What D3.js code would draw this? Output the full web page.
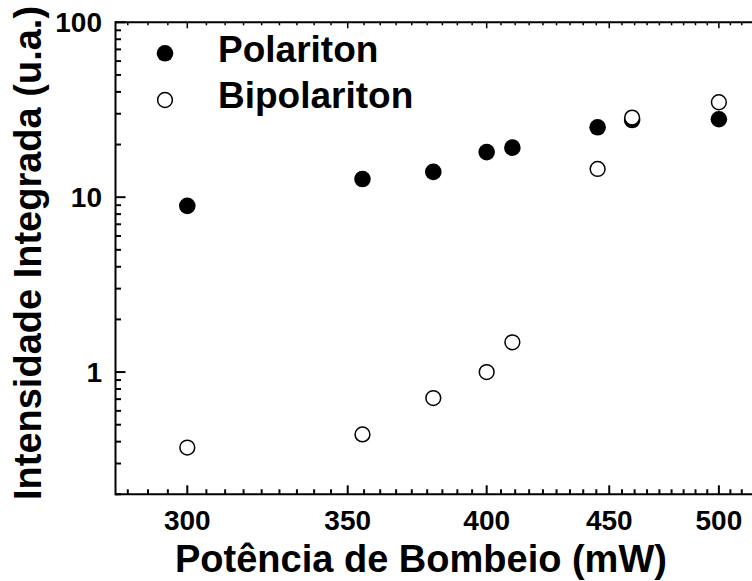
<!DOCTYPE html>
<html>
<head>
<meta charset="utf-8">
<script src="https://cdn.jsdelivr.net/npm/d3@7"></script>
<style>
	body { margin: 0; background: #fff; }
	text { font-family: "Liberation Sans", Arial, sans-serif; font-weight: bold; fill: #000; }
</style>
</head>
<body>
<div id="chart"></div>
<script>
// chart values
var power = [300, 355, 380, 400, 410, 445, 460, 500];
var polariton = [8.92, 12.7, 13.95, 18.1, 19.2, 25.1, 27.6, 27.9];
var bipolariton = [0.37, 0.44, 0.71, 1.0, 1.48, 14.5, 28.5, 34.9];

var xTicks = [300, 350, 400, 450, 500];
var yTicks = [1, 10, 100];
var legendNames = ["Polariton", "Bipolariton"];

//draw the chart
function drawChart() {
	var width = 752;
	var height = 581;

	var svg = d3.select("#chart").append("svg")
		.attr("width", width)
		.attr("height", height);

	//log scales on both axes
	var x = d3.scaleLog().domain([280, 520]).range([115.5, 759.7]);
	var y = d3.scaleLog().domain([0.2, 100]).range([494.3, 22.3]);

	//minor ticks, 8 between each pair of major ticks on x
	var xMinor = [];
	for (var m = 250; m <= 500; m += 50) {
		for (var k = 1; k <= 8; k++) {
			var v = m + k * 50 / 9;
			if (v > 280 && v < 520) xMinor.push(v);
		}
	}
	var yMinor = [];
	[0.1, 1, 10].forEach(function(d) {
		for (var k = 2; k <= 9; k++) {
			if (d * k >= 0.2 && d * k < 100) yMinor.push(d * k);
		}
	});

	var axisColor = "#000";
	var lineW = 2;

	//bottom axis ticks
	svg.selectAll(".xmaj").data(xTicks).enter().append("line")
		.attr("x1", function(d) { return x(d); })
		.attr("x2", function(d) { return x(d); })
		.attr("y1", y(0.2)).attr("y2", y(0.2) - 9)
		.attr("stroke", axisColor).attr("stroke-width", lineW);
	svg.selectAll(".xmin").data(xMinor).enter().append("line")
		.attr("x1", function(d) { return x(d); })
		.attr("x2", function(d) { return x(d); })
		.attr("y1", y(0.2)).attr("y2", y(0.2) - 5)
		.attr("stroke", axisColor).attr("stroke-width", lineW);

	//top axis ticks
	svg.selectAll(".xmajt").data(xTicks).enter().append("line")
		.attr("x1", function(d) { return x(d); })
		.attr("x2", function(d) { return x(d); })
		.attr("y1", y(100)).attr("y2", y(100) + 6)
		.attr("stroke", axisColor).attr("stroke-width", 1.5);
	svg.selectAll(".xmint").data(xMinor).enter().append("line")
		.attr("x1", function(d) { return x(d); })
		.attr("x2", function(d) { return x(d); })
		.attr("y1", y(100)).attr("y2", y(100) + 3)
		.attr("stroke", axisColor).attr("stroke-width", 1.5);

	//left axis ticks
	svg.selectAll(".ymaj").data(yTicks).enter().append("line")
		.attr("x1", x(280)).attr("x2", x(280) + 10)
		.attr("y1", function(d) { return y(d); })
		.attr("y2", function(d) { return y(d); })
		.attr("stroke", axisColor).attr("stroke-width", lineW);
	svg.selectAll(".ymin").data(yMinor).enter().append("line")
		.attr("x1", x(280)).attr("x2", x(280) + 5.5)
		.attr("y1", function(d) { return y(d); })
		.attr("y2", function(d) { return y(d); })
		.attr("stroke", axisColor).attr("stroke-width", lineW);

	//frame lines
	svg.append("line")
		.attr("x1", x(280)).attr("x2", x(520))
		.attr("y1", y(0.2)).attr("y2", y(0.2))
		.attr("stroke", axisColor).attr("stroke-width", lineW);
	svg.append("line")
		.attr("x1", x(280)).attr("x2", x(520))
		.attr("y1", y(100)).attr("y2", y(100))
		.attr("stroke", axisColor).attr("stroke-width", lineW);
	svg.append("line")
		.attr("x1", x(280)).attr("x2", x(280))
		.attr("y1", y(100) - 1).attr("y2", y(0.2) + 1)
		.attr("stroke", axisColor).attr("stroke-width", lineW);

	//tick labels
	svg.selectAll(".xlab").data(xTicks).enter().append("text")
		.attr("x", function(d) { return x(d); })
		.attr("y", 529.5)
		.attr("text-anchor", "middle")
		.style("font-size", "28px")
		.text(function(d) { return d; });
	svg.selectAll(".ylab").data(yTicks).enter().append("text")
		.attr("x", 102)
		.attr("y", function(d) { return y(d) + 10; })
		.attr("text-anchor", "end")
		.style("font-size", "28px")
		.text(function(d) { return d; });

	//axis titles
	svg.append("text")
		.attr("x", 175)
		.attr("y", 572)
		.style("font-size", "38px")
		.text("Potência de Bombeio (mW)");
	svg.append("text")
		.attr("transform", "translate(40.5,253) rotate(-90)")
		.attr("text-anchor", "middle")
		.style("font-size", "38px")
		.text("Intensidade Integrada (u.a.)");

	//data points
	svg.selectAll(".pol").data(power).enter().append("circle")
		.attr("cx", function(d) { return x(d); })
		.attr("cy", function(d, i) { return y(polariton[i]); })
		.attr("r", 8.3)
		.attr("fill", "#000");
	svg.selectAll(".bip").data(power).enter().append("circle")
		.attr("cx", function(d) { return x(d); })
		.attr("cy", function(d, i) { return y(bipolariton[i]); })
		.attr("r", 7.4)
		.attr("fill", "#fff")
		.attr("stroke", "#000")
		.attr("stroke-width", 1.5);

	//legend
	var legendY = [53.3, 100];
	svg.append("circle")
		.attr("cx", 165).attr("cy", legendY[0]).attr("r", 8.3)
		.attr("fill", "#000");
	svg.append("circle")
		.attr("cx", 165).attr("cy", legendY[1]).attr("r", 7.4)
		.attr("fill", "#fff").attr("stroke", "#000").attr("stroke-width", 1.5);
	svg.selectAll(".leg").data(legendNames).enter().append("text")
		.attr("x", 218)
		.attr("y", function(d, i) { return legendY[i] + 8.4; })
		.style("font-size", "37px")
		.text(function(d) { return d; });
}

drawChart();
</script>
</body>
</html>
